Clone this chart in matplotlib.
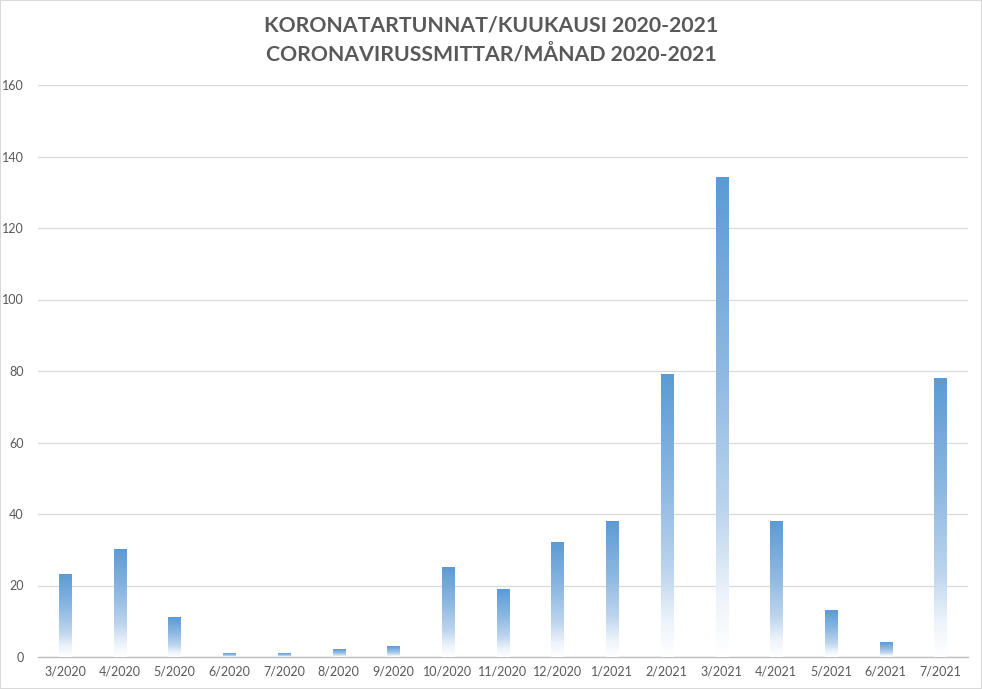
import matplotlib
matplotlib.use("Agg")
import matplotlib.pyplot as plt
import numpy as np
from matplotlib.colors import LinearSegmentedColormap
from matplotlib.patches import Rectangle

categories = ["3/2020", "4/2020", "5/2020", "6/2020", "7/2020", "8/2020", "9/2020",
              "10/2020", "11/2020", "12/2020", "1/2021", "2/2021", "3/2021",
              "4/2021", "5/2021", "6/2021", "7/2021"]
values = [23, 30, 11, 1, 1, 2, 3, 25, 19, 32, 38, 79, 134, 38, 13, 4, 78]
yticks = [0, 20, 40, 60, 80, 100, 120, 140, 160]
title = "KORONATARTUNNAT/KUUKAUSI 2020-2021\nCORONAVIRUSSMITTAR/MÅNAD 2020-2021"

fig = plt.figure(figsize=(9.82, 6.89), dpi=100)
ax = fig.add_axes([37.7/982, 1-657/689, 930/982, 572/689])

x = np.arange(len(categories))
bars = ax.bar(x, values, width=0.22, color="none", edgecolor="none", zorder=3)

cmap = LinearSegmentedColormap.from_list(
    "grad", [(0.0, "#FFFFFF"), (0.12, "#EEF4FB"), (0.3, "#BDD5EE"),
             (0.6, "#8DB8E2"), (1.0, "#5B9BD5")])
grad = np.linspace(0, 1, 256).reshape(-1, 1)
for b in bars:
    x0, w, h = b.get_x(), b.get_width(), b.get_height()
    ax.imshow(grad, cmap=cmap, origin="lower", aspect="auto",
              extent=[x0, x0 + w, 0, h], zorder=3, interpolation="bilinear")

ax.set_xlim(-0.5, len(categories) - 0.5)
ax.set_ylim(0, 160)
ax.set_yticks(yticks)
ax.set_xticks(x)
ax.set_xticklabels(categories)
ax.grid(axis="y", color="#D9D9D9", linewidth=0.9, zorder=0)
ax.set_axisbelow(True)
for s in ["top", "right", "left"]:
    ax.spines[s].set_visible(False)
ax.spines["bottom"].set_color("#BFBFBF")
ax.spines["bottom"].set_linewidth(1.0)
ax.tick_params(axis="both", length=0, colors="#595959", pad=6)
ax.tick_params(axis="y", pad=10)
for lab in ax.get_xticklabels() + ax.get_yticklabels():
    lab.set_family(["Lato", "DejaVu Sans"])
    lab.set_fontsize(9)

fig.text(0.5, 0.978, title, ha="center", va="top", fontsize=15.3,
         fontweight="bold", color="#595959", linespacing=1.55,
         family=["Lato", "DejaVu Sans"])

fig.patches.append(Rectangle((0, 0), 1, 1, transform=fig.transFigure,
                             fill=False, edgecolor="#D9D9D9", linewidth=1.5))

fig.savefig("out.png", dpi=100)
